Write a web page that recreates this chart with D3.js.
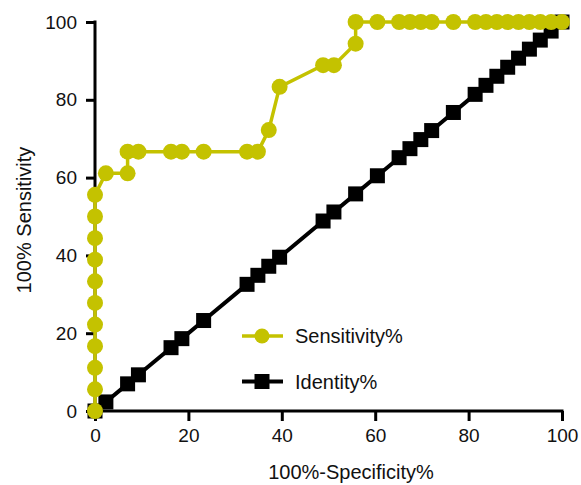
<!DOCTYPE html>
<html>
<head>
<meta charset="utf-8">
<script src="https://cdn.jsdelivr.net/npm/d3@7"></script>
<style>
  html, body { margin: 0; padding: 0; background: #fff; }
  svg { display: block; font-family: "Liberation Sans", Arial, Helvetica, sans-serif; }
</style>
</head>
<body>
<div id="chart"></div>
<script>
// ROC curve: Sensitivity% vs 100%-Specificity%, with the identity line

var SENS_X = [0, 0, 0, 0, 0, 0, 0, 0, 0, 0, 0, 2.33, 6.98, 6.98, 9.30, 16.28, 18.60, 23.26, 32.56, 34.88,
  37.21, 39.53, 48.84, 51.16, 55.81, 55.81, 60.47, 65.12, 67.44, 69.77, 72.09, 76.74, 81.40, 83.72,
  86.05, 88.37, 90.70, 93.02, 95.35, 97.67, 100];
var SENS_Y = [0, 5.56, 11.11, 16.67, 22.22, 27.78, 33.33, 38.89, 44.44, 50, 55.56, 61.11, 61.11, 66.67,
  66.67, 66.67, 66.67, 66.67, 66.67, 66.67, 72.22, 83.33, 88.89, 88.89, 94.44, 100, 100, 100, 100, 100,
  100, 100, 100, 100, 100, 100, 100, 100, 100, 100, 100];
var IDENT = [0, 2.33, 6.98, 9.30, 16.28, 18.60, 23.26, 32.56, 34.88, 37.21, 39.53, 48.84, 51.16, 55.81,
  60.47, 65.12, 67.44, 69.77, 72.09, 76.74, 81.40, 83.72, 86.05, 88.37, 90.70, 93.02, 95.35, 97.67, 100];
var TICKS = [0, 20, 40, 60, 80, 100];
var SERIES = ["Sensitivity%", "Identity%"];

var W = 581, H = 485;
var YELLOW = "#c4c200";

var svg = d3.select("#chart").append("svg").attr("width", W).attr("height", H);

var x = d3.scaleLinear().domain([0, 100]).range([95, 562]);
var y = d3.scaleLinear().domain([0, 100]).range([411, 22]);

var sens = SENS_X.map(function (v, i) { return { x: v, y: SENS_Y[i] }; });
var ident = IDENT.map(function (v) { return { x: v, y: v }; });

var line = d3.line().x(function (d) { return x(d.x); }).y(function (d) { return y(d.y); });

// identity
svg.append("path").datum(ident).attr("d", line)
  .attr("fill", "none").attr("stroke", "#000").attr("stroke-width", 4);
svg.selectAll("rect.id").data(ident).enter().append("rect")
  .attr("x", function (d) { return x(d.x) - 7.5; })
  .attr("y", function (d) { return y(d.y) - 7.5; })
  .attr("width", 15).attr("height", 15).attr("fill", "#000");

// axes
var xAxis = svg.append("g").attr("transform", "translate(0," + y(0) + ")")
  .call(d3.axisBottom(x).tickValues(TICKS).tickSize(10).tickSizeOuter(0).tickPadding(8));
var yAxis = svg.append("g").attr("transform", "translate(" + x(0) + ",0)")
  .call(d3.axisLeft(y).tickValues(TICKS).tickSize(9).tickSizeOuter(0).tickPadding(9));
[xAxis, yAxis].forEach(function (g) {
  g.selectAll("path, line").attr("stroke", "#000").attr("stroke-width", 3);
  g.selectAll("text").attr("fill", "#111").style("font-size", "19px");
});
xAxis.select(".domain").attr("d", "M" + (x(0) - 1.5) + ",0H" + (x(100) + 1.5));
yAxis.select(".domain").attr("d", "M0," + (y(0) + 1.5) + "V" + (y(100) - 1.5));

// sensitivity
svg.append("path").datum(sens).attr("d", line)
  .attr("fill", "none").attr("stroke", YELLOW).attr("stroke-width", 3.5);
svg.selectAll("circle.sens").data(sens).enter().append("circle")
  .attr("cx", function (d) { return x(d.x); })
  .attr("cy", function (d) { return y(d.y); })
  .attr("r", 8).attr("fill", YELLOW);

// legend
var leg = svg.append("g");
SERIES.forEach(function (name, i) {
  var ly = 336 + i * 45.5;
  var col = i === 0 ? YELLOW : "#000";
  leg.append("line").attr("x1", 242).attr("x2", 283).attr("y1", ly).attr("y2", ly)
    .attr("stroke", col).attr("stroke-width", i === 0 ? 3.5 : 4);
  if (i === 0) {
    leg.append("circle").attr("cx", 262).attr("cy", ly).attr("r", 7.5).attr("fill", col);
  } else {
    leg.append("rect").attr("x", 254.5).attr("y", ly - 7.5).attr("width", 15).attr("height", 15).attr("fill", col);
  }
  leg.append("text").attr("x", 295).attr("y", ly).attr("dy", "0.36em")
    .attr("fill", "#111").style("font-size", "20px").text(name);
});

// axis titles
svg.append("text").attr("x", 351).attr("y", 479).attr("text-anchor", "middle")
  .attr("fill", "#111").style("font-size", "20px").text("100%-Specificity%");
svg.append("text").attr("transform", "translate(31,220) rotate(-90)").attr("text-anchor", "middle")
  .attr("fill", "#111").style("font-size", "20px").text("100% Sensitivity");
</script>
</body>
</html>
